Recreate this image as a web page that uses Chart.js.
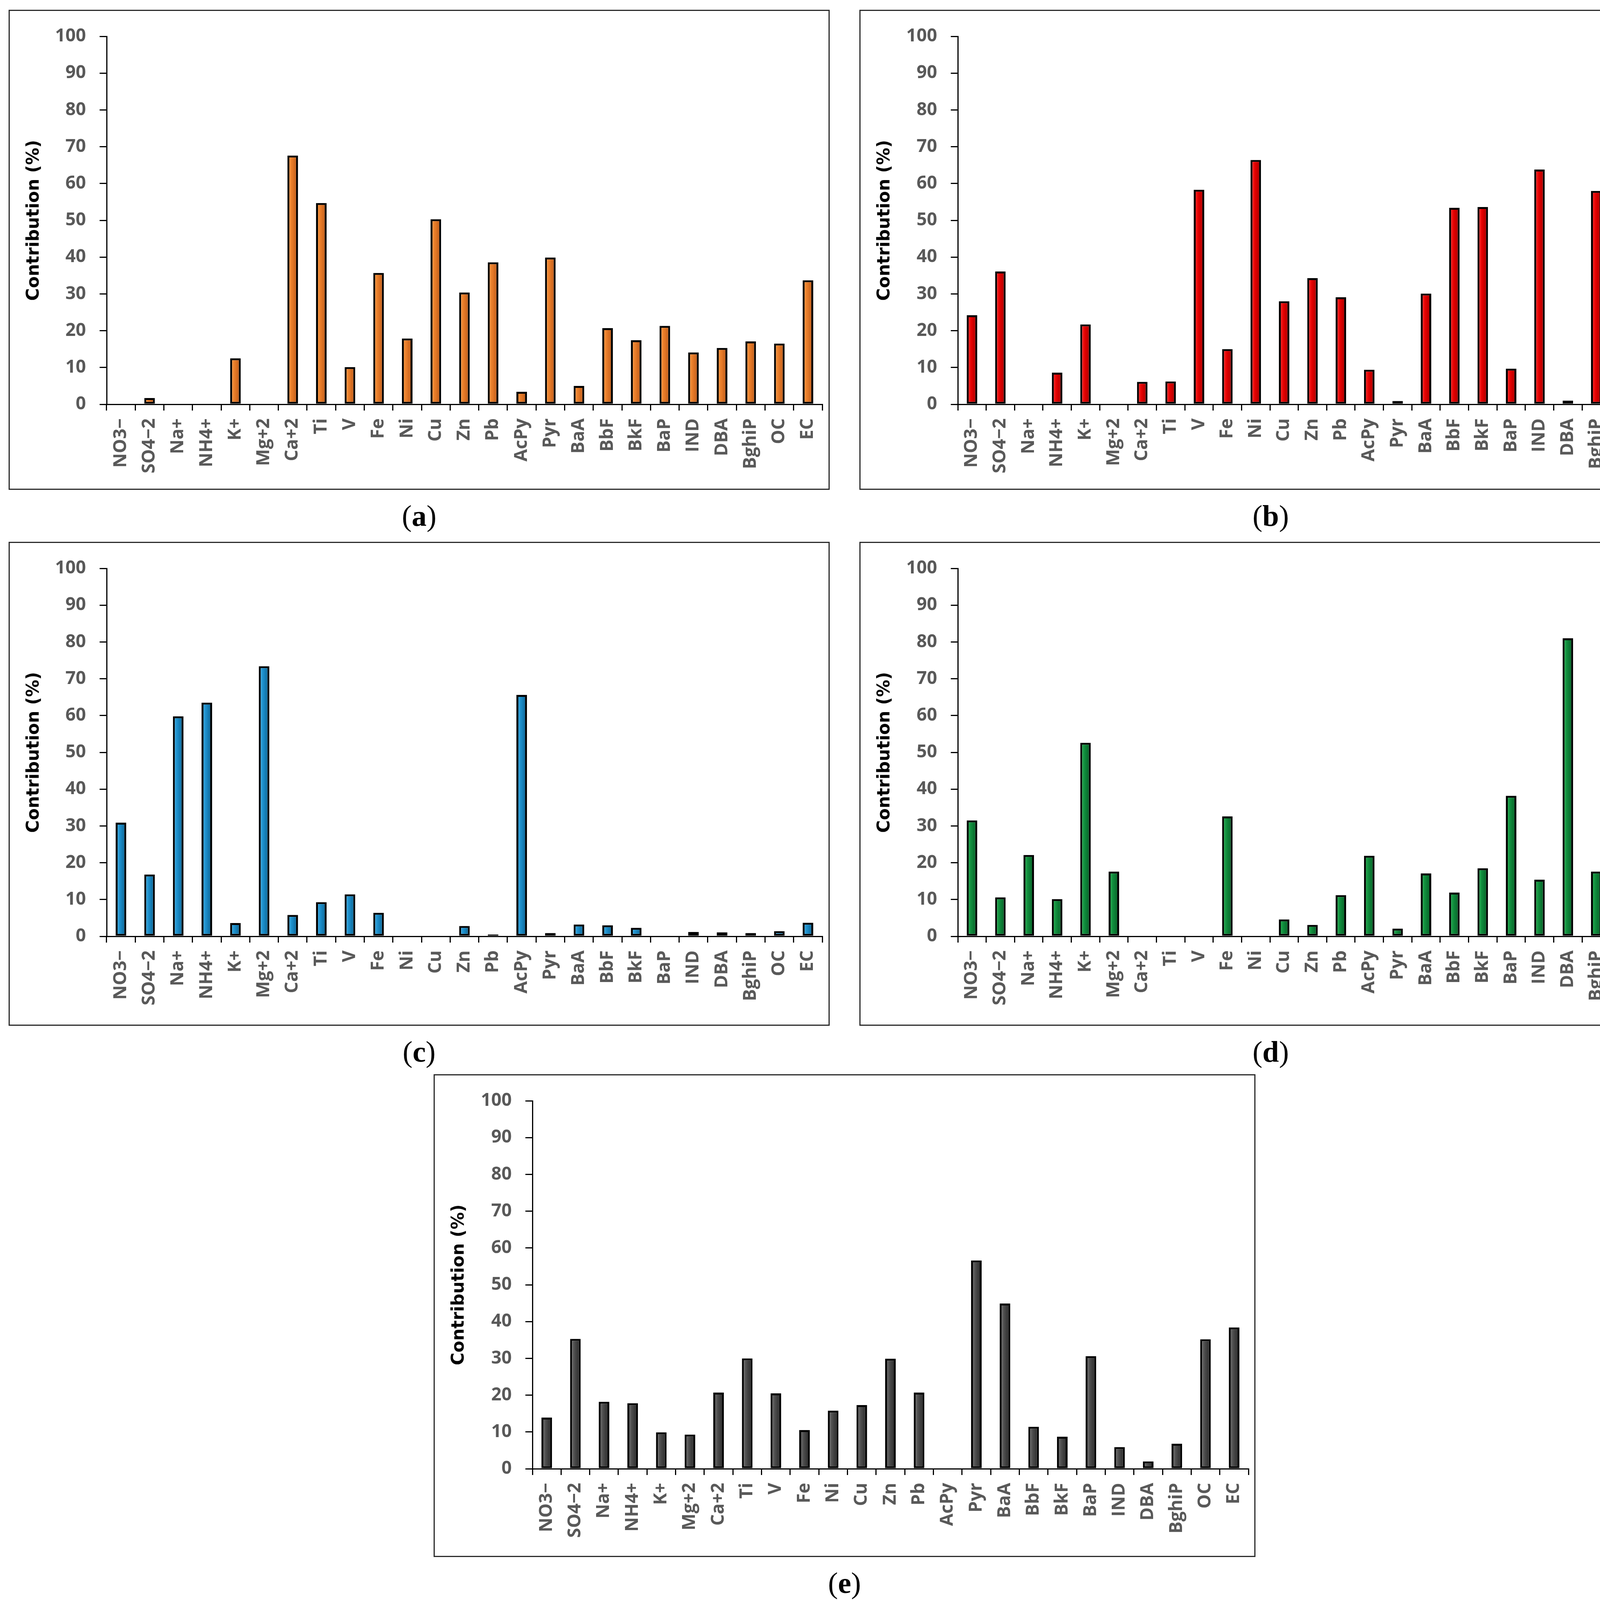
<!DOCTYPE html>
<html lang="en">
<head>
<meta charset="UTF-8">
<title>Factor contributions</title>
<script src="https://cdn.jsdelivr.net/npm/chart.js"></script>
<style>
  body { margin: 0; background: #fff; width: 4324px; height: 4113px; position: relative; overflow: hidden; }
  .panel { position: absolute; border: 3px solid #2b2b2b; box-sizing: border-box; background: #fff; }
  .panel canvas { display: block; }
  .tag { position: absolute; font-family: "Liberation Serif", serif; font-size: 76px; line-height: 1;
         transform: translate(-50%, -50%); color: #000; white-space: nowrap; }
</style>
</head>
<body>

<script>
// species on the x axis
const species = ["NO3−", "SO4−2", "Na+", "NH4+", "K+", "Mg+2", "Ca+2", "Ti", "V", "Fe", "Ni", "Cu", "Zn",
                 "Pb", "AcPy", "Pyr", "BaA", "BbF", "BkF", "BaP", "IND", "DBA", "BghiP", "OC", "EC"];

// contribution (%) of each species, one array per factor
const factorA = [0, 1.7, 0, 0, 12.5, 0, 67.6, 54.7, 10.1, 35.7, 17.9, 50.3, 30.4,
                 38.6, 3.4, 39.9, 5.0, 20.7, 17.4, 21.3, 14.1, 15.3, 17.1, 16.5, 33.7];
const factorB = [24.2, 36.1, 0, 8.6, 21.7, 0, 6.1, 6.2, 58.3, 15.0, 66.4, 28.0, 34.3,
                 29.1, 9.4, 0.9, 30.1, 53.4, 53.6, 9.7, 63.8, 1.0, 58.0, 14.1, 14.6];
const factorC = [30.9, 16.8, 59.8, 63.5, 3.6, 73.4, 5.8, 9.3, 11.4, 6.4, 0, 0, 2.8,
                 0.5, 65.6, 0.9, 3.2, 3.0, 2.3, 0, 1.2, 1.1, 0.9, 1.4, 3.7];
const factorD = [31.5, 10.6, 22.1, 10.1, 52.6, 17.6, 0, 0, 0, 32.6, 0, 4.6, 3.1,
                 11.2, 21.9, 2.1, 17.1, 11.9, 18.5, 38.2, 15.4, 81.0, 17.6, 33.1, 10.0];
const factorE = [13.9, 35.3, 18.2, 17.8, 9.9, 9.3, 20.7, 30.0, 20.5, 10.5, 15.8, 17.3, 29.9,
                 20.7, 0, 56.6, 44.9, 11.4, 8.7, 30.6, 5.9, 2.0, 6.8, 35.2, 38.4];

const yMin = 0, yMax = 100, yStep = 10;
const yTitle = "Contribution (%)";

// bar shading: light edge, body, dark edge
const shadeA = ["#f9a24c", "#e77a27", "#b5571a"];
const shadeB = ["#ff3b3b", "#e30000", "#9c0000"];
const shadeC = ["#48b3e6", "#1a8cc8", "#0d5e8a"];
const shadeD = ["#2fba5a", "#0f893b", "#075a25"];
const shadeE = ["#7c7c7c", "#4a4a4a", "#262626"];

const BAR_PCT = 0.37;

// panel frames in page pixels: box, then plot-area offsets inside the box
const panels = [
  { tag: "a", values: factorA, shade: shadeA, x: 22,   y: 25,   w: 2102, h: 1229, pl: 251, pr: 19 },
  { tag: "b", values: factorB, shade: shadeB, x: 2200, y: 25,   w: 2106, h: 1229, pl: 252, pr: 38 },
  { tag: "c", values: factorC, shade: shadeC, x: 22,   y: 1387, w: 2102, h: 1239, pl: 251, pr: 19 },
  { tag: "d", values: factorD, shade: shadeD, x: 2200, y: 1387, w: 2106, h: 1239, pl: 252, pr: 38 },
  { tag: "e", values: factorE, shade: shadeE, x: 1110, y: 2750, w: 2104, h: 1236, pl: 253, pr: 18 }
];
const PLOT_TOP = 68;     // box top -> 100 line
const PLOT_SPAN = 942;   // 100 line -> 0 line
const BORDER = 3;

function barFill(ctx, shade) {
  const chart = ctx.chart;
  const xs = chart.scales && chart.scales.x;
  if (!chart.chartArea || !xs || ctx.dataIndex === undefined) return shade[1];
  const cx = xs.getPixelForValue(ctx.dataIndex);
  const half = xs.width / species.length * BAR_PCT / 2;
  const g = chart.ctx.createLinearGradient(cx - half, 0, cx + half, 0);
  g.addColorStop(0, shade[0]);
  g.addColorStop(0.45, shade[1]);
  g.addColorStop(1, shade[2]);
  return g;
}

const tickFont = { family: "Open Sans", weight: "bold", size: 46 };

panels.forEach(p => {
  const box = document.createElement("div");
  box.className = "panel";
  box.style.left = p.x + "px";
  box.style.top = p.y + "px";
  box.style.width = p.w + "px";
  box.style.height = p.h + "px";
  const cv = document.createElement("canvas");
  const cw = p.w - 2 * BORDER, ch = p.h - 2 * BORDER;
  cv.width = cw; cv.height = ch;
  cv.style.width = cw + "px"; cv.style.height = ch + "px";
  box.appendChild(cv);
  document.body.appendChild(box);

  const tag = document.createElement("div");
  tag.className = "tag";
  tag.innerHTML = "(<b>" + p.tag + "</b>)";
  tag.style.left = (p.x + p.w / 2) + "px";
  tag.style.top = (p.y + p.h + 66) + "px";
  document.body.appendChild(tag);

  const leftW = p.pl - BORDER;
  const topPad = PLOT_TOP - BORDER;
  const bottomH = ch - topPad - PLOT_SPAN;

  new Chart(cv, {
    type: "bar",
    data: {
      labels: species,
      datasets: [{
        data: p.values,
        backgroundColor: ctx => barFill(ctx, p.shade),
        borderColor: "#000",
        borderWidth: 5,
        borderSkipped: false,
        barPercentage: BAR_PCT,
        categoryPercentage: 1
      }]
    },
    options: {
      responsive: false,
      animation: false,
      devicePixelRatio: 1,
      layout: { padding: { left: 0, top: topPad, right: p.pr - BORDER, bottom: 0 } },
      plugins: { legend: { display: false }, tooltip: { enabled: false } },
      scales: {
        x: {
          grid: { offset: true, drawOnChartArea: false, color: "#000", lineWidth: 3, tickLength: 16 },
          border: { color: "#000", width: 3 },
          ticks: { minRotation: 90, maxRotation: 90, autoSkip: false, padding: 20, color: "#595959", font: tickFont },
          afterFit: s => { s.height = bottomH; s.paddingLeft = 0; s.paddingRight = 0; }
        },
        y: {
          min: yMin, max: yMax,
          grid: { drawOnChartArea: false, color: "#000", lineWidth: 3, tickLength: 18 },
          border: { color: "#000", width: 3 },
          ticks: { stepSize: yStep, padding: 35, color: "#595959", font: tickFont },
          title: {
            display: true, text: yTitle, color: "#000",
            font: { family: "DejaVu Sans", weight: "bold", size: 44 },
            padding: { top: 36, bottom: 0 }
          },
          afterFit: s => { s.width = leftW; s.paddingTop = 0; s.paddingBottom = 0; }
        }
      }
    }
  });
});
</script>
</body>
</html>
